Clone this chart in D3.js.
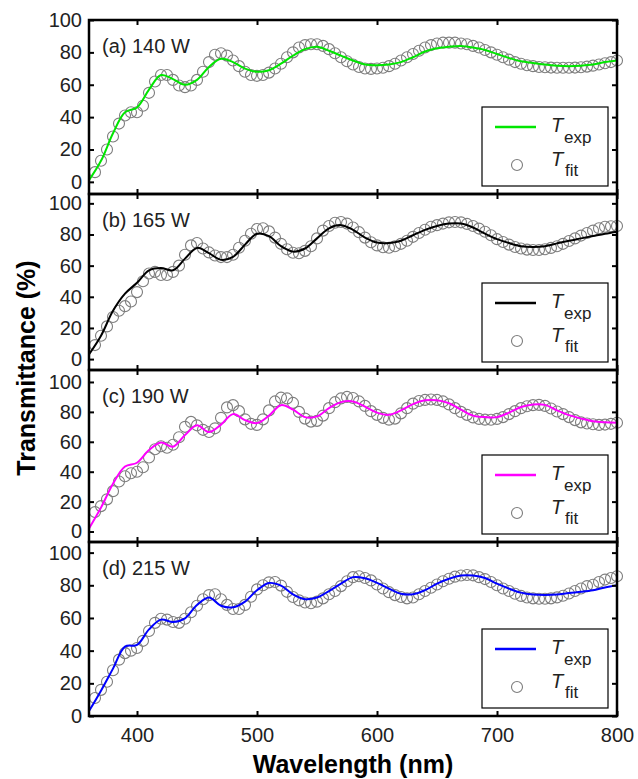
<!DOCTYPE html>
<html>
<head>
<meta charset="utf-8">
<script src="https://cdn.jsdelivr.net/npm/d3@7"></script>
<style>
  body { margin: 0; background: #fff; }
  svg { display: block; font-family: "Liberation Sans", Arial, sans-serif; }
</style>
</head>
<body>
<div id="graph"></div>
<script>
// wavelengths (nm)
const wlExp = [360,370,380,390,400,410,420,430,440,450,460,470,480,490,500,510,520,530,540,550,560,570,580,590,600,610,620,630,640,650,660,670,680,690,700,710,720,730,740,750,760,770,780,790,800];
const wlFit = [365,370,375,380,385,390,395,400,405,410,415,420,425,430,435,440,445,450,455,460,465,470,475,480,485,490,495,500,505,510,515,520,525,530,535,540,545,550,555,560,565,570,575,580,585,590,595,600,605,610,615,620,625,630,635,640,645,650,655,660,665,670,675,680,685,690,695,700,705,710,715,720,725,730,735,740,745,750,755,760,765,770,775,780,785,790,795,800];

// (a) 140 W
const expA = [1,13,30,43,46,57,66,63.5,60,63,71,76,74,70,68,69,73,78,82,83.5,81,78,75,72.5,72,72.5,74,77,80.5,82.5,83.5,84,83,81.5,79,76.5,74.5,73.5,72.5,71.8,71.5,71.8,72.5,74,75];
const fitA = [6,13,20,28,36,41,43,43,47,55,62,66,66,63,59.5,58.5,59.5,63,68,74,78.5,79.5,78,75,71.5,68,66,65.5,66,67.5,70,73,77,80,83,84.5,85,85,84,82,79.5,77,74.5,72.5,71,70,69.8,70,70.5,71.5,73,75,77,79,81,83,84.5,85.5,86,86,86,85.5,85,84,83,81.5,80,78.5,77,75.5,74,73,72,71.5,71,70.8,70.6,70.5,70.5,70.5,70.6,70.8,71.2,71.8,72.5,73.3,74,75];

// (b) 165 W
const expB = [3,15,31,42,49,57,58.5,57,64.5,71.4,68,63.7,65.6,73.5,80.5,79,72.5,69,71,77.5,84,86,83,78,74.8,74.5,76,79.5,83,85.5,87,87,84.5,80.5,77,74.5,72.5,72,72.5,74.3,76,77.5,79,80.5,81.8];
const fitB = [9,15,21,27,31,34,37,43,50,55,56,54,54,56,60,67,73,74.5,71,68.5,66.5,65.5,65.5,67,71.5,76,80.5,83.5,84,82,78,74,70.5,68.3,68,69.5,72.5,77.5,82.5,85.5,87.5,88,87,84.5,81.5,78,75,73,71.8,71.5,72.5,74,76,78.5,81,83,85,86,87,87.8,88,87.8,86.8,85.5,83.8,81.8,79.5,77,75.2,73.5,72,71,70.3,70,70,70.5,71.4,72.5,74,75.8,77.5,79.3,81,82.5,84,85,85.3,85.5];

// (c) 190 W
const expC = [2,16,32,43.5,46,54.5,59.5,56.7,64.5,71,66.5,71.5,78.5,74.5,72.5,77.5,84.5,81.5,76.5,77,82.5,86.5,87,83.5,79.5,78,81,85.2,87.7,87.8,85.8,81.5,77.5,76.5,76.5,79.5,83.3,85,84.7,81,77.8,75.5,73.7,73,72.7];
const fitC = [13,17,21.5,27,33.5,37,39,40,43,49.5,55,57,56,58,63,70,73.3,71,68,66.5,69,76,83,84.5,80.5,75,72,71.3,75,81,87,89.5,89,86,80,75.5,73.5,74,77.5,82.5,86.5,89,90,89.3,87,84,80.5,78,76,74.8,75.5,79,82.5,85.5,87.3,88,88.3,88,87,85,82.5,80,78,76.3,75.3,74.8,74.7,75.3,76.5,78.5,80.5,82.5,83.8,84.5,84.7,84,82.3,80.3,78.5,76.5,74.5,73,72.2,71.7,71.3,71.5,72,72.7];

// (d) 215 W
const expD = [3,15.5,29,42.5,43.5,53,59,57.5,59.8,68,72.5,67.5,66.5,70,77,81.4,79.8,74.5,71.5,72.5,76.5,81,85,84.3,81.5,78,74.8,74.5,77,81,84,86,86,84.5,81,78,75.5,74.3,74,74.3,75.3,76,77,78.7,80];
const fitD = [11,16,21,28,34.5,38.5,40,41.6,46,52,57,59.5,59,57.5,57,59.5,63.5,67.5,71.5,74,74.5,71.5,68,65.5,65.5,68,73,77.5,80,81.8,82,79.8,76,72.8,70.8,69.5,69,70,72,74.5,76.5,79.5,82.5,85,85.5,84.5,83,80.5,78,75.8,74,72.8,72,72.5,74.5,76.5,78.5,80.5,82.5,84,85.3,86,86.3,86.1,85,83.8,82,80,78,76.5,74.8,73.5,72.5,72,71.8,71.8,72,72.6,73.6,75,76.5,78,79.5,80.3,82,83.5,84.5,85.5];

const panelLabels = ["(a) 140 W", "(b) 165 W", "(c) 190 W", "(d) 215 W"];
const yTicks = [0, 20, 40, 60, 80, 100];
const xTicks = [400, 500, 600, 700, 800];

const width = 638;
const height = 779;
const marginLeft = 89;
const marginRight = 21;

const panels = [
  { label: panelLabels[0], exp: expA, fit: fitA, color: "#00e600", top: 20,  bottom: 194, domain: [-7.5, 100] },
  { label: panelLabels[1], exp: expB, fit: fitB, color: "#000000", top: 194, bottom: 370, domain: [-7, 106] },
  { label: panelLabels[2], exp: expC, fit: fitC, color: "#ff00ff", top: 370, bottom: 542, domain: [-7, 108] },
  { label: panelLabels[3], exp: expD, fit: fitD, color: "#0000ff", top: 542, bottom: 716, domain: [0, 106.5] }
];

const xScale = d3.scaleLinear()
                 .domain([360, 800])
                 .range([marginLeft, width - marginRight]);

const svg = d3.create("svg")
              .attr("width", width)
              .attr("height", height);

panels.forEach((p, idx) => {
  const yScale = d3.scaleLinear()
                   .domain(p.domain)
                   .range([p.bottom, p.top]);

  const g = svg.append("g");

  // fit circles
  g.append("g")
   .selectAll("circle")
   .data(wlFit)
   .join("circle")
   .attr("cx", d => xScale(d))
   .attr("cy", (d, i) => yScale(p.fit[i]))
   .attr("r", 5.5)
   .attr("fill", "none")
   .attr("stroke", "#7d7d7d")
   .attr("stroke-width", 1.1);

  // experimental line
  const line = d3.line()
                 .x((d, i) => xScale(wlExp[i]))
                 .y(d => yScale(d))
                 .curve(d3.curveCatmullRom);

  g.append("path")
   .datum(p.exp)
   .attr("d", line)
   .attr("fill", "none")
   .attr("stroke", p.color)
   .attr("stroke-width", 2);

  // axes: ticks inward
  const left = d3.axisLeft(yScale).tickValues(yTicks).tickSizeInner(-5).tickSizeOuter(0).tickPadding(7);
  const right = d3.axisRight(yScale).tickValues(yTicks).tickSizeInner(-5).tickSizeOuter(0).tickFormat("");
  const top = d3.axisTop(xScale).tickValues(xTicks).tickSizeInner(-5).tickSizeOuter(0).tickFormat("");
  const bottom = d3.axisBottom(xScale).tickValues(xTicks).tickSizeInner(-5).tickSizeOuter(0).tickPadding(12);
  if (idx < panels.length - 1) bottom.tickFormat("");

  const styleAxis = sel => {
    sel.select(".domain").remove();
    sel.selectAll(".tick line").attr("stroke", "#000").attr("stroke-width", 2);
    sel.selectAll(".tick text").attr("font-size", 20).attr("fill", "#222")
       .attr("font-family", "'Liberation Sans', Arial, sans-serif");
  };

  g.append("g").attr("transform", `translate(${marginLeft},0)`).call(left).call(styleAxis);
  g.append("g").attr("transform", `translate(${width - marginRight},0)`).call(right).call(styleAxis);
  g.append("g").attr("transform", `translate(0,${p.top})`).call(top).call(styleAxis);
  g.append("g").attr("transform", `translate(0,${p.bottom})`).call(bottom).call(styleAxis);

  // frame
  g.append("rect")
   .attr("x", marginLeft)
   .attr("y", p.top)
   .attr("width", width - marginRight - marginLeft)
   .attr("height", p.bottom - p.top)
   .attr("fill", "none")
   .attr("stroke", "#000")
   .attr("stroke-width", 2.5);

  // panel label
  g.append("text")
   .attr("x", 102)
   .attr("y", p.top + 33)
   .attr("font-size", 20)
   .attr("fill", "#222")
   .text(p.label);

  // legend
  const lx = 482, ly = p.bottom - 87;
  const lg = g.append("g").attr("transform", `translate(${lx},${ly})`);
  lg.append("rect")
    .attr("width", 126)
    .attr("height", 79)
    .attr("fill", "#fff")
    .attr("stroke", "#000")
    .attr("stroke-width", 1.2);
  lg.append("line")
    .attr("x1", 13).attr("x2", 54)
    .attr("y1", 20).attr("y2", 20)
    .attr("stroke", p.color)
    .attr("stroke-width", 2.5);
  lg.append("circle")
    .attr("cx", 35).attr("cy", 58)
    .attr("r", 5.5)
    .attr("fill", "none")
    .attr("stroke", "#7d7d7d")
    .attr("stroke-width", 1.1);
  lg.append("text").attr("x", 69).attr("y", 25).attr("font-size", 20)
    .attr("font-style", "italic").attr("fill", "#222").text("T");
  lg.append("text").attr("x", 82).attr("y", 36).attr("font-size", 17)
    .attr("fill", "#222").text("exp");
  lg.append("text").attr("x", 69).attr("y", 59).attr("font-size", 20)
    .attr("font-style", "italic").attr("fill", "#222").text("T");
  lg.append("text").attr("x", 83).attr("y", 69).attr("font-size", 17)
    .attr("fill", "#222").text("fit");
});

// axis titles
svg.append("text")
   .attr("x", (marginLeft + width - marginRight) / 2)
   .attr("y", 773)
   .attr("text-anchor", "middle")
   .attr("font-size", 25)
   .attr("font-weight", "bold")
   .text("Wavelength (nm)");

svg.append("text")
   .attr("transform", "rotate(-90)")
   .attr("x", -368)
   .attr("y", 35)
   .attr("text-anchor", "middle")
   .attr("font-size", 25)
   .attr("font-weight", "bold")
   .text("Transmittance (%)");

document.getElementById("graph").append(svg.node());
</script>
</body>
</html>
